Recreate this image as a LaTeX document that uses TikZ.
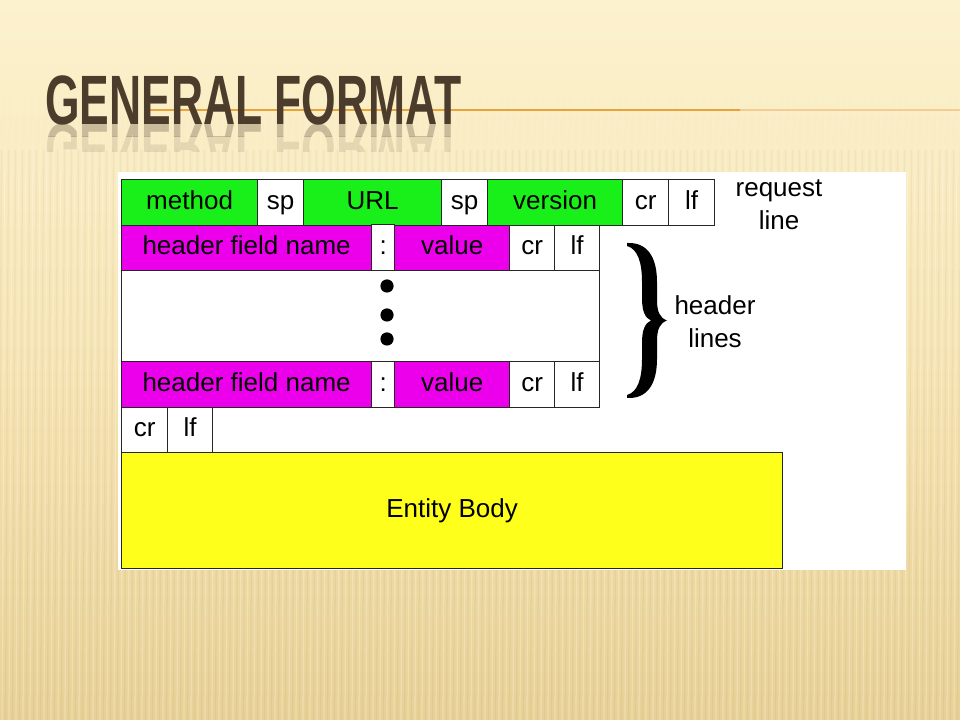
\documentclass[tikz,border=0pt]{standalone}
\usepackage{fontspec}
\setmainfont{Liberation Sans}
\definecolor{bgtop}{RGB}{252,242,206}
\definecolor{bgmid}{RGB}{246,228,180}
\definecolor{bgbot}{RGB}{232,209,150}
\definecolor{titlebrown}{RGB}{76,60,44}
\definecolor{ruleorange}{RGB}{232,162,58}
\definecolor{fieldgreen}{RGB}{25,240,25}
\definecolor{fieldpink}{RGB}{236,0,236}
\definecolor{fieldyellow}{RGB}{255,255,28}
\begin{document}
\begin{tikzpicture}[x=0.025cm,y=-0.025cm,
  titletext/.style={font=\bfseries\fontsize{49.7}{52}\selectfont, text=titlebrown,
    inner sep=0, anchor=base west, xscale=0.636},
  cell/.style={draw=black!85, line width=0.9pt, inner sep=0, anchor=north west,
    font=\fontsize{18.5}{20}\selectfont, text height=13.9pt, text depth=4.6pt},
  size/.style 2 args={minimum width=#1*0.025cm, minimum height=#2*0.025cm},
  label/.style={font=\fontsize{18.5}{23.5}\selectfont, align=center, inner sep=0},
  dot/.style={circle, fill=black, inner sep=0, minimum size=0.33cm},
]
\useasboundingbox (0,0) rectangle (960,720);

% slide background with fine vertical stripes
\fill[top color=bgtop, bottom color=bgbot, middle color=bgmid] (0,0) rectangle (960,720);
\foreach \x in {-40,-33,...,1000}{
  \draw[white, opacity=0.12, line width=0.9pt] (\x+6,95) -- (\x+3,150);
  \draw[white, opacity=0.24, line width=0.9pt] (\x+3,150) -- (\x,720);
  \draw[brown!60!black, opacity=0.05, line width=0.9pt] (\x+6.5,150) -- (\x+3.5,720);
}

% title with its rule and reflection
\draw[ruleorange, line width=1.6pt] (150,110) -- (740,110);
\draw[ruleorange!55, line width=1.4pt] (740,110) -- (960,110);
\node[titletext] (title) at (45,125) {GENERAL FORMAT};
\begin{scope}
  \clip (0,125) rectangle (960,137);
  \node[titletext, yscale=-1, opacity=0.28] (titlerefl) at (45,125) {GENERAL FORMAT};
\end{scope}
\begin{scope}
  \clip (0,137) rectangle (960,152);
  \node[titletext, yscale=-1, opacity=0.12] (titlerefl2) at (45,125) {GENERAL FORMAT};
\end{scope}

% white panel
\fill[white] (118,172) rectangle (906,570);

% request line
\node[cell, fill=fieldgreen, size={136}{46}] (method) at (121,179) {method};
\node[cell, fill=white,      size={46}{46}]  (sp1)    at (257,179) {sp};
\node[cell, fill=fieldgreen, size={138}{46}] (url)    at (303,179) {URL};
\node[cell, fill=white,      size={46}{46}]  (sp2)    at (441,179) {sp};
\node[cell, fill=fieldgreen, size={135}{46}] (version) at (487,179) {version};
\node[cell, fill=white,      size={46}{46}]  (cr1)    at (622,179) {cr};
\node[cell, fill=white,      size={46}{46}]  (lf1)    at (668,179) {lf};
\node[label] (reqlabel) at (779,205) {request\\line};

% first header line
\node[cell, fill=fieldpink, size={250}{45}] (name1)  at (121,225) {header field name};
\node[cell, fill=white,     size={23}{46}]  (colon1) at (371,224) {:};
\node[cell, fill=fieldpink, size={115}{45}] (value1) at (394,225) {value};
\node[cell, fill=white,     size={45}{45}]  (cr2)    at (509,225) {cr};
\node[cell, fill=white,     size={45}{45}]  (lf2)    at (554,225) {lf};

% elided header lines
\node[cell, fill=white, size={478}{91}] (gap) at (121,270) {};
\node[dot] (dot1) at (387,286) {};
\node[dot] (dot2) at (387,315) {};
\node[dot] (dot3) at (387,339) {};

% last header line
\node[cell, fill=fieldpink, size={250}{46}] (name2)  at (121,361) {header field name};
\node[cell, fill=white,     size={23}{46}]  (colon2) at (371,361) {:};
\node[cell, fill=fieldpink, size={115}{46}] (value2) at (394,361) {value};
\node[cell, fill=white,     size={45}{46}]  (cr3)    at (509,361) {cr};
\node[cell, fill=white,     size={45}{46}]  (lf3)    at (554,361) {lf};

% header brace and label
\fill (627,243)
  .. controls (648,242) and (657,258) .. (657,282)
  -- (657,300)
  .. controls (657,312) and (660,318) .. (667,320.5)
  .. controls (660,323) and (657,329) .. (657,341)
  -- (657,359)
  .. controls (657,383) and (648,399) .. (627,398)
  -- (627,395)
  .. controls (638,392) and (642,378) .. (642,359)
  -- (642,343)
  .. controls (642,330) and (645,323) .. (651,320.5)
  .. controls (645,318) and (642,311) .. (642,298)
  -- (642,282)
  .. controls (642,263) and (638,249) .. (627,246)
  -- cycle;
\node[label] (hdrlabel) at (715,322) {header\\lines};

% blank line and body
\node[cell, fill=white, size={46}{45}] (cr4) at (121,407) {cr};
\node[cell, fill=white, size={45}{45}] (lf4) at (167,407) {lf};
\node[cell, fill=fieldyellow, size={661}{116}] (body) at (121,452) {Entity Body};
\end{tikzpicture}
\end{document}
